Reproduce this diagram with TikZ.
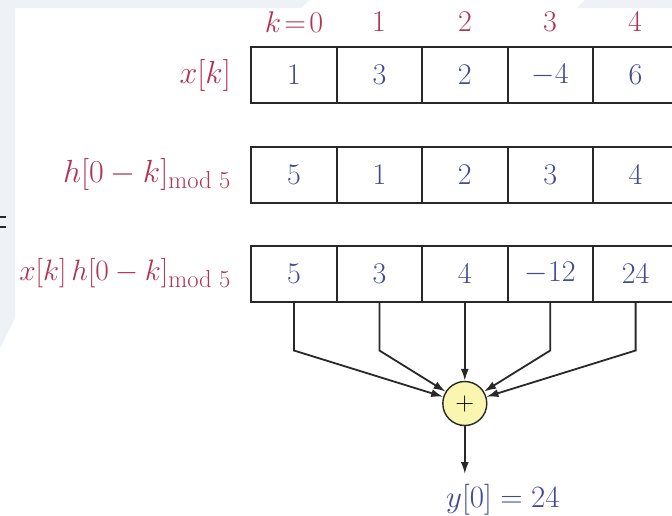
\RequirePackage{fix-cm}
\documentclass[tikz,border=0pt]{standalone}
\usetikzlibrary{arrows.meta}
\definecolor{labred}{RGB}{178,52,84}
\definecolor{numblue}{RGB}{66,74,150}
\definecolor{bgblue}{RGB}{238,242,247}
\definecolor{sumfill}{RGB}{250,245,175}
\definecolor{linegray}{RGB}{40,40,40}
\newcommand{\modsub}{\mbox{\fontsize{24.5}{28}\selectfont mod 5}}
\tikzset{
  cellbox/.style={draw=linegray, line width=2pt, minimum width=85.4pt, minimum height=56pt, inner sep=0pt, text=numblue, font=\fontsize{30}{36}\selectfont},
  rowlab/.style={anchor=east, inner sep=0pt, text=labred, font=\fontsize{32}{38}\selectfont},
  idxlab/.style={inner sep=0pt, text=labred, font=\fontsize{30}{36}\selectfont},
  arr/.style={draw=linegray, line width=1.8pt, -{Latex[length=12pt,width=8pt]}},
  sumnode/.style={circle, draw=linegray, line width=1.4pt, fill=sumfill, minimum size=44pt, inner sep=0pt, font=\fontsize{26}{30}\selectfont},
}
\begin{document}
\begin{tikzpicture}[x=1pt,y=-1pt]
\useasboundingbox (0,0) rectangle (672,515);
\clip (0,0) rectangle (672,515);
\fill[white] (0,0) rectangle (672,515);
\fill[bgblue] (0,0) -- (310,0) -- (301,8) -- (15,8) -- (15,318) -- (0,348) -- cycle;
\fill[bgblue] (577,8) -- (585,0) -- (672,0) -- (672,8) -- cycle;
\draw[linegray, line width=1.2pt] (0,217) -- (6,217) (0,227) -- (6,227);
% index labels
\node[idxlab] (k0) at (294,22) {$k\!=\!0$};
\node[idxlab] (k1) at (379,22) {$1$};
\node[idxlab] (k2) at (465,22) {$2$};
\node[idxlab] (k3) at (550,22) {$3$};
\node[idxlab] (k4) at (635,22) {$4$};
% row labels
\node[rowlab] (lx) at (231,75) {$x[k]$};
\node[rowlab] (lh) at (231,174.5) {$h[0-k]_{\modsub}$};
\node[rowlab, font=\fontsize{29.5}{35}\selectfont] (lp) at (231,273.5) {$x[k]\,h[0-k]_{\modsub}$};
% row 1
\node[cellbox] (a1) at (294,75) {$1$};
\node[cellbox] (a2) at (379.4,75) {$3$};
\node[cellbox] (a3) at (464.8,75) {$2$};
\node[cellbox] (a4) at (550.2,75) {$-4$};
\node[cellbox] (a5) at (635.6,75) {$6$};
% row 2
\node[cellbox] (b1) at (294,174.5) {$5$};
\node[cellbox] (b2) at (379.4,174.5) {$1$};
\node[cellbox] (b3) at (464.8,174.5) {$2$};
\node[cellbox] (b4) at (550.2,174.5) {$3$};
\node[cellbox] (b5) at (635.6,174.5) {$4$};
% row 3
\node[cellbox] (c1) at (294,273.5) {$5$};
\node[cellbox] (c2) at (379.4,273.5) {$3$};
\node[cellbox] (c3) at (464.8,273.5) {$4$};
\node[cellbox] (c4) at (550.2,273.5) {$-12$};
\node[cellbox] (c5) at (635.6,273.5) {$24$};
% sum
\node[sumnode] (sum) at (464.8,403.5) {$+$};
\coordinate (yend) at (464.8,474);
\node[inner sep=0pt, anchor=north west, text=numblue, font=\fontsize{31}{37}\selectfont] (ylab) at (446,484) {$y[0] = 24$};
% connectors
\draw[arr] (c1.south) -- ++(0,48) -- (sum);
\draw[arr] (c2.south) -- ++(0,48) -- (sum);
\draw[arr] (c3.south) -- (sum);
\draw[arr] (c4.south) -- ++(0,48) -- (sum);
\draw[arr] (c5.south) -- ++(0,48) -- (sum);
\draw[arr] (sum) -- (yend);
\end{tikzpicture}
\end{document}
